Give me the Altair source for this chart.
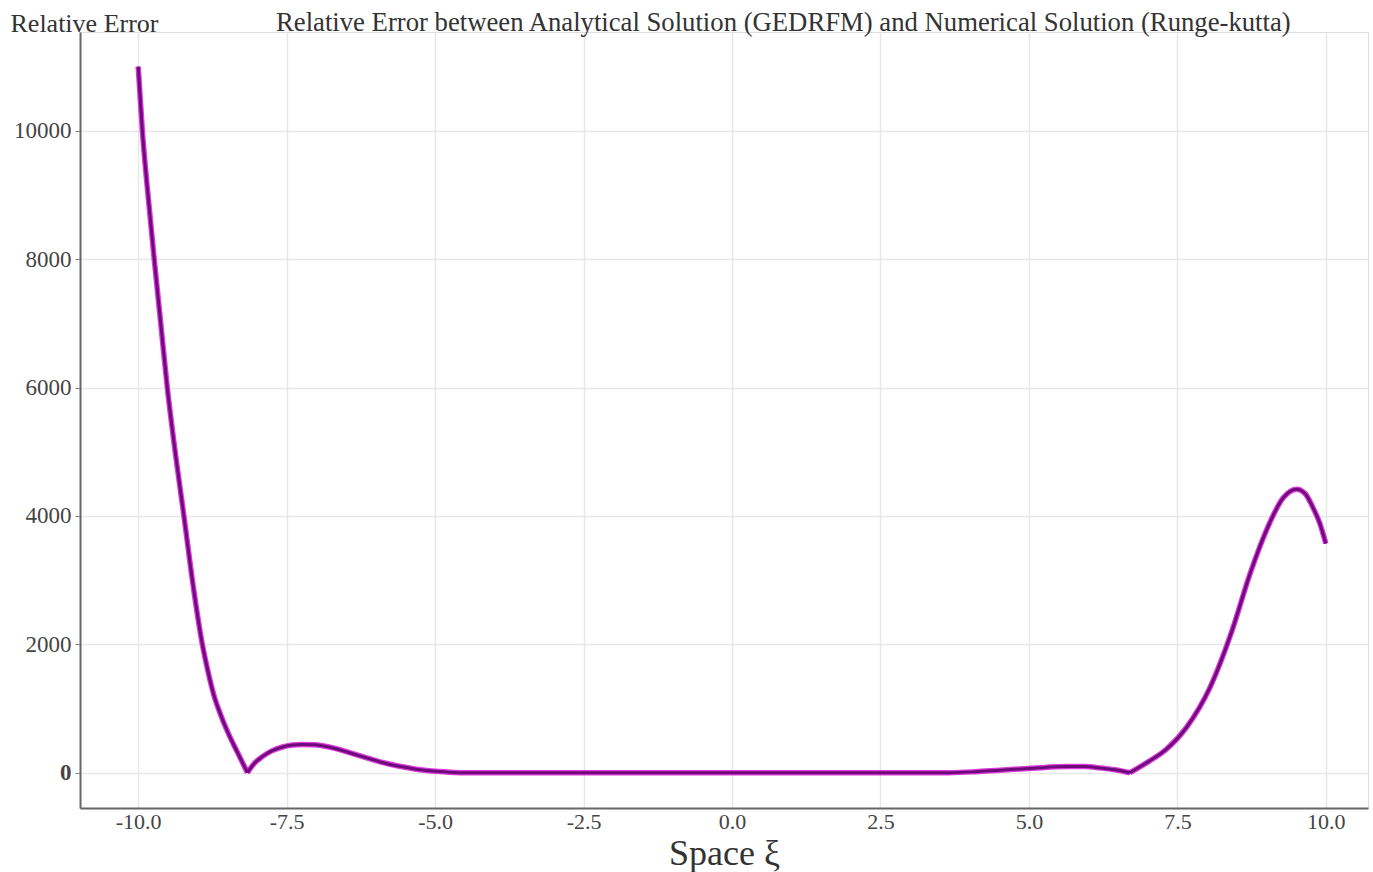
import altair as alt
import pandas as pd

# Space coordinate xi and relative error between the two solutions.
# "seg" splits the curve at its two sharp minima so that each piece can be
# smoothed on its own without rounding off the cusps.
xi = [-10.0, -9.93, -9.85, -9.73, -9.62, -9.51, -9.37, -9.23, -9.08, -8.92,
      -8.82, -8.72, -8.61, -8.50, -8.33, -8.16,
      -8.16, -8.05, -7.91, -7.75, -7.57, -7.40, -7.24,
      -7.05, -6.90, -6.65, -6.44, -6.15, -5.89, -5.60, -5.32, -5.05, -4.76,
      -4.40, -4.0, -3.0, -2.0, -1.0, 0.0, 1.0, 2.0, 3.0, 3.66,
      4.10, 4.51, 5.06, 5.64, 5.95, 6.19, 6.45, 6.70,
      6.70, 7.00, 7.32, 7.66, 8.05, 8.43, 8.72, 9.01, 9.28, 9.51, 9.65, 9.78,
      9.90, 10.0]
rel_error = [11000, 10000, 9150, 8000, 7000, 6000, 4950, 4000, 2950, 2000,
             1560, 1190, 900, 650, 320, 0,
             0, 140, 250, 340, 400, 430, 440,
             435, 420, 370, 311, 230, 160, 100, 55, 25, 8,
             0, 0, 0, 0, 0, 0, 0, 0, 0, 0,
             15, 40, 70, 95, 95, 75, 45, 0,
             0, 165, 370, 715, 1330, 2240, 3090, 3800, 4280, 4417, 4350, 4137,
             3880, 3570]
seg = [0] * 16 + [1] * 35 + [2] * 14

x_ticks = [-10.0, -7.5, -5.0, -2.5, 0.0, 2.5, 5.0, 7.5, 10.0]
y_ticks = [0, 2000, 4000, 6000, 8000, 10000]

main_title = ("Relative Error between Analytical Solution (GEDRFM) "
              "and Numerical Solution (Runge-kutta)")

df = pd.DataFrame({"xi": xi, "err": rel_error, "seg": seg})

FONT = "Liberation Serif"
TEXT = "#333333"

x_enc = alt.X(
    "xi:Q",
    scale=alt.Scale(domain=[-10.98, 10.71], nice=False, zero=False),
    axis=alt.Axis(
        values=x_ticks, title="Space ξ",
        labelExpr="(datum.value < 0 ? '-' : '') + format(abs(datum.value), '.1f')",
        titleFontSize=36, titleFont=FONT, titleFontWeight="normal",
        titleColor=TEXT, titlePadding=4,
        labelFont=FONT, labelFontSize=22, labelColor="#444444",
        labelPadding=3, ticks=False,
        domainColor="#666666", domainWidth=2,
        gridColor="#e8e8e8", gridWidth=1.5,
    ),
)
y_enc = alt.Y(
    "err:Q",
    scale=alt.Scale(domain=[-550, 11540], nice=False, zero=False),
    axis=alt.Axis(
        values=y_ticks, format="d", title="Relative Error",
        titleAngle=0, titleX=-70, titleY=-1, titleAlign="left",
        titleBaseline="alphabetic", titleFontSize=26, titleFont=FONT,
        titleFontWeight="normal", titleColor=TEXT,
        labelFont=FONT, labelFontSize=23, labelColor="#444444",
        labelFontWeight={"condition": {"test": "datum.value == 0", "value": "bold"},
                         "value": "normal"},
        labelPadding=4, tickSize=5, tickColor="#888888",
        domainColor="#666666", domainWidth=2,
        gridColor="#e8e8e8", gridWidth=1.5,
    ),
)

base = alt.Chart(df)
halo = base.mark_line(color="#d21ad2", strokeWidth=5.5, opacity=0.85,
                      interpolate="monotone", strokeJoin="round").encode(
    x=x_enc, y=y_enc, detail="seg:N")
core = base.mark_line(color="#700a7c", strokeWidth=3,
                      interpolate="monotone", strokeJoin="round").encode(
    x="xi:Q", y="err:Q", detail="seg:N")

heading = alt.Chart(pd.DataFrame({"t": [main_title]})).mark_text(
    align="left", baseline="alphabetic", font=FONT, fontSize=26.7,
    color=TEXT,
).encode(text="t:N", x=alt.value(196), y=alt.value(-1))

chart = (
    alt.layer(halo, core, heading)
    .properties(
        width=1288,
        height=776,
        padding={"left": 80, "top": 32, "right": 5, "bottom": 64},
        autosize=alt.AutoSizeParams(type="none"),
    )
    .configure_view(strokeWidth=0)
    .configure(background="white")
)

chart.save("out.html", embed_options={"renderer": "svg", "actions": False})
